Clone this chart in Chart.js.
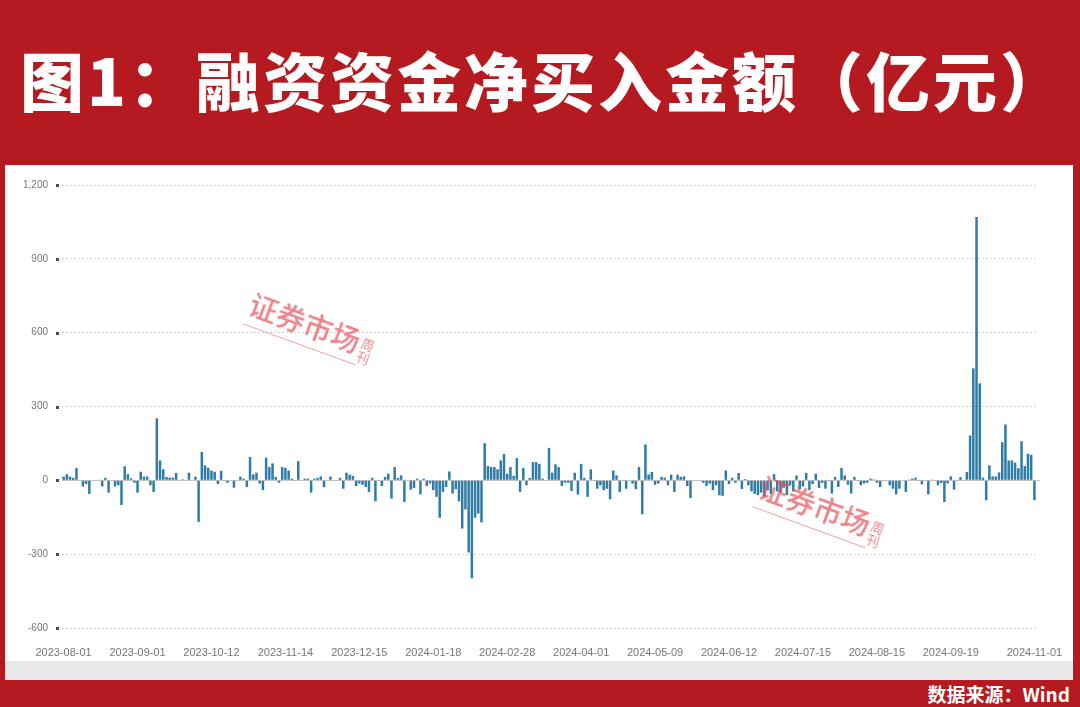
<!DOCTYPE html>
<html>
<head>
<meta charset="utf-8">
<script src="https://cdn.jsdelivr.net/npm/chart.js@4.4.1/dist/chart.umd.min.js"></script>
<style>
  html, body { margin: 0; padding: 0; }
  body { width: 1080px; height: 707px; background: #b51a20; position: relative; overflow: hidden;
         font-family: "Noto Sans CJK SC", "Noto Sans", sans-serif; }
  #title { position: absolute; left: 20px; top: 35px; height: 86px; line-height: 86px;
           color: #fff; font-size: 64px; font-weight: 900; letter-spacing: 3px; white-space: nowrap; }
  #panel { position: absolute; left: 5px; top: 165px; width: 1068px; height: 515px; background: #fff; }
  #strip { position: absolute; left: 0; top: 496px; width: 1068px; height: 19px; background: #e9e9e9; }
  #wrap { position: absolute; left: 0; top: 0; width: 1068px; height: 495px; }
  #source { position: absolute; right: 10px; top: 680px; height: 27px; line-height: 27px;
            color: #fff; font-size: 19px; font-weight: 700; }
  .wm { position: absolute; color: rgba(226, 78, 88, 0.7); transform: rotate(20deg); transform-origin: left top;
        white-space: nowrap; pointer-events: none; }
  .wm .big { font-size: 29px; font-weight: 500; }
  .wm .small { display: inline-block; font-size: 13px; line-height: 14px; vertical-align: -6px; margin-left: 2px; }
  .wm .line { width: 120px; height: 1px; background: rgba(226, 78, 88, 0.5); margin-top: 2px; }
</style>
</head>
<body>
<div id="title">图1：融资资金净买入金额（亿元）</div>
<div id="panel">
  <div id="wrap"><canvas id="marginChart"></canvas></div>
  <div id="strip"></div>
</div>
<div class="wm" style="left:258px; top:282px;"><span class="big">证券市场</span><span class="small">周<br>刊</span><div class="line"></div></div>
<div class="wm" style="left:768px; top:465px;"><span class="big">证券市场</span><span class="small">周<br>刊</span><div class="line"></div></div>
<div id="source">数据来源：Wind</div>

<script>
// Net margin buying, 100m CNY, one value per trading day
const netBuy2023 = [
  15, 25, 15, 10, 50, 2, -25, -15, -55, 0, 0, 3, -25, 10, -50, 0, -25, -20, -100, 57, 25, 8, -10,
  -50, 35, 15, 15, -20, -47, 252, 81, 45, 14, 11, 11, 30, 0, 4, 0, 31, 0, 15, -169,
  115, 61, 51, 40, 35, -15, 39, -3, -10, 0, -30, 0, 15, 7, -27, 95, 24,
  31, -13, -40, 92, 54, 69, 14, -10, 54, 51, 40, 7, -3, 78, 0, 7, 7, -50, 7, 10, 16, -28,
  0, 15, -3, 0, 10, -34, 31, 23, 18, -23, -13, -18, -27, -47, 10, -85, 0, -23, 14, 27, -74
];
const netBuy2024 = [
  54, 10, 20, -88, 0, -38, -31, 7, -57, 7, -23, -13, -40, -67, -152, -47, -27, 36, -54, -36, -85, -196,
  -118, -293, -398, -152, -135, -171, 151, 58, 54, 54, 45, 81, 107, 27, 54, 18, 90,
  -47, 50, -20, 10, 74, 74, 67, 7, 0, 132, 31, 65, 54, -23, -10, -10, -43, 31, -58,
  67, 10, -67, 45, -3, -34, -20, -40, -34, -77, 40, 20, -47, -3, -34, 0, -13, -36, 54, -138,
  146, 24, 34, -18, -13, 14, 11, -20, 23, -47, 23, 14, 16, -23, -72, 0, 0, -3, -10, -23,
  -13, -40, -20, -61, -63, 40, -15, 10, -10, 30, -35, 5, -20, -45, -55, -60, -50, -65, -40,
  -55, 25, -45, -50, -30, -60, -20, -45, 20, -35, -25, 30, -40, -15, 27, -31,
  -10, -34, -3, -54, 14, -27, 50, 20, -18, -54, 14, -3, -20, -13, -10, 7, 4, -10, -27, -3, 0, -20,
  -34, -57, -34, 0, -47, 3, 7, 11, -3, -16, 0, -57, 3, 0, -20, -11, -88, -13, 16, -38, -3, 13, 0,
  34, 182, 455, 1070, 394, 11, -81, 61, 16, 16, 32, 155, 227, 81, 81, 72, 49, 159, 58, 108, 104, -81
];

// Exchange closures on weekdays
const holidays = [
  '2023-09-29', '2023-10-02', '2023-10-03', '2023-10-04', '2023-10-05', '2023-10-06',
  '2024-01-01', '2024-02-09', '2024-02-12', '2024-02-13', '2024-02-14', '2024-02-15', '2024-02-16',
  '2024-04-04', '2024-04-05', '2024-05-01', '2024-05-02', '2024-05-03', '2024-06-10',
  '2024-09-16', '2024-09-17', '2024-10-01', '2024-10-02', '2024-10-03', '2024-10-04', '2024-10-07'
];

const tickLabels = [
  '2023-08-01', '2023-09-01', '2023-10-12', '2023-11-14', '2023-12-15', '2024-01-18', '2024-02-28',
  '2024-04-01', '2024-05-09', '2024-06-12', '2024-07-15', '2024-08-15', '2024-09-19', '2024-11-01'
];

const yTicks = [-600, -300, 0, 300, 600, 900, 1200];

// Build the trading day list
function tradingDays(start, end) {
    const days = [];
    const d = new Date(start + 'T00:00:00Z');
    const last = new Date(end + 'T00:00:00Z');
    while (d <= last) {
        const s = d.toISOString().slice(0, 10);
        const wd = d.getUTCDay();
        if (wd !== 0 && wd !== 6 && !holidays.includes(s)) days.push(s);
        d.setUTCDate(d.getUTCDate() + 1);
    }
    return days;
}

const dates = tradingDays('2023-08-01', '2024-11-01');
const values = netBuy2023.concat(netBuy2024);

// zero line + small square markers by y labels
const axisDecor = {
    id: 'axisDecor',
    beforeDatasetsDraw(chart) {
        const ctx = chart.ctx;
        const y = chart.scales.y.getPixelForValue(0);
        ctx.save();
        ctx.strokeStyle = '#c4c4c4';
        ctx.lineWidth = 1;
        ctx.beginPath();
        ctx.moveTo(chart.chartArea.left, Math.round(y) + 0.5);
        ctx.lineTo(chart.chartArea.right + 4, Math.round(y) + 0.5);
        ctx.stroke();
        ctx.restore();
    },
    afterDraw(chart) {
        const ctx = chart.ctx;
        const ys = chart.scales.y;
        ctx.save();
        ctx.fillStyle = '#4a4a4a';
        yTicks.forEach(v => {
            const y = Math.round(ys.getPixelForValue(v));
            ctx.fillRect(chart.chartArea.left - 6, y - 1, 3, 3);
        });
        ctx.restore();
    }
};

const ctx = document.getElementById('marginChart').getContext('2d');
new Chart(ctx, {
    type: 'bar',
    data: {
        labels: dates,
        datasets: [{
            label: '融资净买入',
            data: values,
            backgroundColor: '#2f7ca8',
            borderWidth: 0,
            barPercentage: 0.78,
            categoryPercentage: 1
        }]
    },
    options: {
        responsive: true,
        maintainAspectRatio: false,
        animation: false,
        layout: { padding: { top: 19, right: 37, bottom: 0, left: 0 } },
        plugins: {
            legend: { display: false },
            tooltip: { enabled: false }
        },
        scales: {
            x: {
                grid: { display: false },
                border: { display: false },
                afterFit: scale => { scale.height = 32; },
                ticks: {
                    autoSkip: false,
                    minRotation: 0,
                    maxRotation: 0,
                    padding: 10,
                    color: '#777',
                    font: { family: 'Liberation Sans, Arial, sans-serif', size: 11 },
                    callback: function(value) {
                        const lbl = this.getLabelForValue(value);
                        return tickLabels.includes(lbl) ? lbl : '';
                    }
                }
            },
            y: {
                min: -600,
                max: 1200,
                afterFit: scale => { scale.width = 57; },
                afterBuildTicks: scale => { scale.ticks = yTicks.map(v => ({ value: v })); },
                border: { display: false, dash: [2, 2] },
                grid: { color: '#d2d2d2', lineWidth: 1, drawTicks: false },
                ticks: {
                    padding: 14,
                    color: '#777',
                    font: { family: 'Liberation Sans, Arial, sans-serif', size: 10 },
                    callback: v => v.toLocaleString('en-US')
                }
            }
        }
    },
    plugins: [axisDecor]
});
</script>
</body>
</html>
